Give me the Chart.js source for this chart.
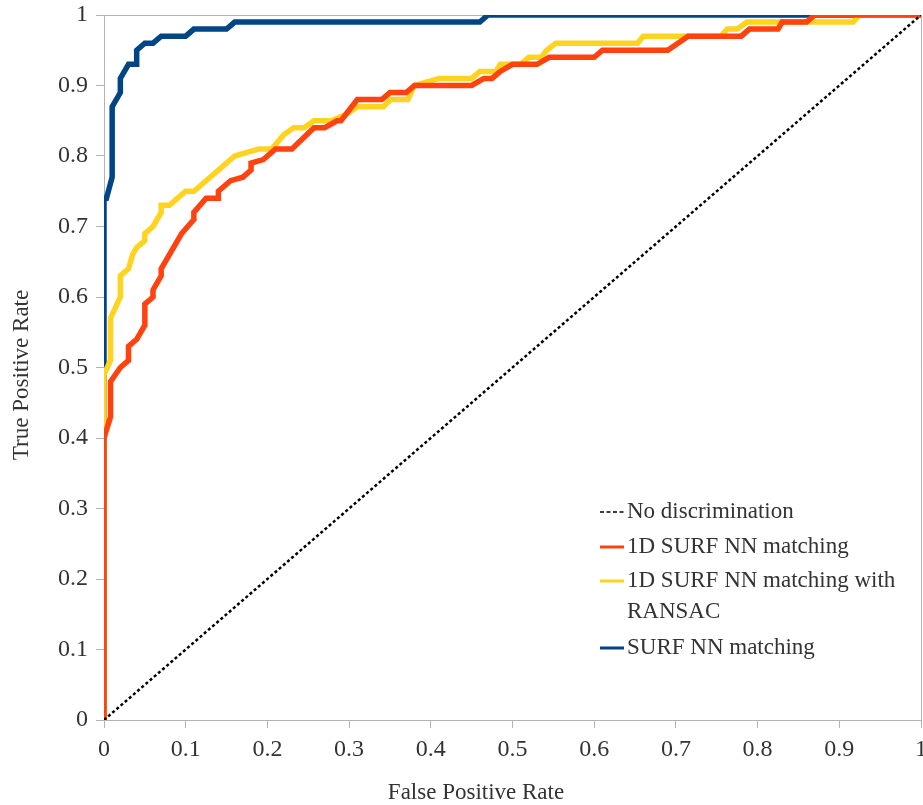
<!DOCTYPE html>
<html>
<head>
<meta charset="utf-8">
<script src="https://cdn.jsdelivr.net/npm/chart.js@4/dist/chart.umd.min.js"></script>
<style>
  html, body { margin: 0; padding: 0; background: #fff; overflow: hidden; }
  #wrap { width: 923px; height: 805px; }
</style>
</head>
<body>
<div id="wrap"><canvas id="c" width="923" height="805"></canvas></div>
<script>
// ---- Data ----
const seriesNames = ["No discrimination", "1D SURF NN matching", "1D SURF NN matching with RANSAC", "SURF NN matching"];
const axisTitles = ["False Positive Rate", "True Positive Rate"];
const tickValues = [0, 0.1, 0.2, 0.3, 0.4, 0.5, 0.6, 0.7, 0.8, 0.9, 1];

const diagFpr = [0, 1];
const diagTpr = [0, 1];

const surf1dFpr = [0, 0, 0.008, 0.008, 0.02, 0.03, 0.03, 0.04, 0.05, 0.05, 0.06, 0.06, 0.07, 0.07, 0.09, 0.095, 0.11, 0.11, 0.125, 0.14, 0.14, 0.155, 0.17, 0.18, 0.18, 0.195, 0.21, 0.23, 0.257, 0.27, 0.285, 0.29, 0.31, 0.34, 0.35, 0.37, 0.38, 0.45, 0.465, 0.475, 0.485, 0.50, 0.53, 0.545, 0.60, 0.61, 0.69, 0.715, 0.78, 0.79, 0.825, 0.83, 0.86, 0.87, 1];
const surf1dTpr = [0, 0.40, 0.43, 0.48, 0.50, 0.51, 0.53, 0.54, 0.56, 0.59, 0.60, 0.61, 0.63, 0.64, 0.68, 0.69, 0.71, 0.72, 0.74, 0.74, 0.75, 0.765, 0.77, 0.78, 0.79, 0.795, 0.81, 0.81, 0.84, 0.84, 0.85, 0.85, 0.88, 0.88, 0.89, 0.89, 0.90, 0.90, 0.91, 0.91, 0.92, 0.93, 0.93, 0.94, 0.94, 0.95, 0.95, 0.97, 0.97, 0.98, 0.98, 0.99, 0.99, 1.0, 1.0];

const ransacFpr = [0, 0, 0.008, 0.008, 0.02, 0.02, 0.03, 0.035, 0.04, 0.05, 0.05, 0.06, 0.07, 0.07, 0.08, 0.10, 0.11, 0.14, 0.16, 0.175, 0.19, 0.205, 0.22, 0.232, 0.245, 0.257, 0.278, 0.298, 0.31, 0.342, 0.351, 0.372, 0.38, 0.41, 0.45, 0.46, 0.48, 0.485, 0.51, 0.52, 0.535, 0.542, 0.553, 0.653, 0.66, 0.755, 0.763, 0.775, 0.787, 0.917, 0.925, 1];
const ransacTpr = [0, 0.49, 0.51, 0.57, 0.60, 0.63, 0.64, 0.66, 0.67, 0.68, 0.69, 0.70, 0.72, 0.73, 0.73, 0.75, 0.75, 0.78, 0.80, 0.805, 0.81, 0.81, 0.83, 0.84, 0.84, 0.85, 0.85, 0.86, 0.87, 0.87, 0.88, 0.88, 0.90, 0.91, 0.91, 0.92, 0.92, 0.93, 0.93, 0.94, 0.94, 0.95, 0.96, 0.96, 0.97, 0.97, 0.98, 0.98, 0.99, 0.99, 1.0, 1.0];

const surfFpr = [0, 0, 0.003, 0.01, 0.01, 0.02, 0.02, 0.03, 0.04, 0.04, 0.05, 0.06, 0.07, 0.10, 0.11, 0.15, 0.16, 0.46, 0.47, 1];
const surfTpr = [0, 0.74, 0.74, 0.77, 0.87, 0.89, 0.91, 0.93, 0.93, 0.95, 0.96, 0.96, 0.97, 0.97, 0.98, 0.98, 0.99, 0.99, 1.0, 1.0];

const seriesColors = ["#000000", "#ff420e", "#ffd320", "#004586"];

// ---- Build ----
function pts(xs, ys) { return xs.map((x, i) => ({ x: x, y: ys[i] })); }

const FONT = "'Liberation Serif', 'DejaVu Serif', 'Times New Roman', serif";
const TEXT = "#333333";
const AXIS = "#b3b3b3";

const framePlugin = {
  id: 'frame',
  beforeDatasetsDraw(chart) {
    const { ctx, chartArea: a } = chart;
    ctx.save();
    ctx.strokeStyle = AXIS;
    ctx.lineWidth = 1;
    ctx.beginPath();
    ctx.moveTo(a.left, a.top + 0.5);
    ctx.lineTo(a.right + 0.5, a.top + 0.5);
    ctx.lineTo(a.right + 0.5, a.bottom);
    ctx.stroke();
    ctx.restore();
  }
};

const titlePlugin = {
  id: 'axisTitles',
  afterDraw(chart) {
    const { ctx } = chart;
    ctx.save();
    ctx.font = "23px " + FONT;
    ctx.fillStyle = TEXT;
    ctx.textAlign = "center";
    ctx.textBaseline = "middle";
    ctx.fillText(axisTitles[0], 476, 793);
    ctx.translate(22, 375);
    ctx.rotate(-Math.PI / 2);
    ctx.fillText(axisTitles[1], 0, 0);
    ctx.restore();
  }
};

const legendPlugin = {
  id: 'customLegend',
  afterDraw(chart) {
    const { ctx } = chart;
    const rows = [
      { lines: ["No discrimination"], y: 512, color: seriesColors[0], dash: [4, 2.5] },
      { lines: ["1D SURF NN matching"], y: 547, color: seriesColors[1], dash: [] },
      { lines: ["1D SURF NN matching with", "RANSAC"], y: 581, color: seriesColors[2], dash: [] },
      { lines: ["SURF NN matching"], y: 648, color: seriesColors[3], dash: [] }
    ];
    ctx.save();
    ctx.font = "23px " + FONT;
    ctx.textBaseline = "middle";
    ctx.textAlign = "left";
    rows.forEach(r => {
      ctx.strokeStyle = r.color;
      ctx.lineWidth = r.dash.length ? 1.5 : 3;
      ctx.setLineDash(r.dash);
      ctx.beginPath();
      ctx.moveTo(600, r.y);
      ctx.lineTo(624, r.y);
      ctx.stroke();
      ctx.setLineDash([]);
      ctx.fillStyle = TEXT;
      r.lines.forEach((t, i) => ctx.fillText(t, 627, r.y + i * 31));
    });
    ctx.restore();
  }
};

const datasets = [
  { label: seriesNames[0], data: pts(diagFpr, diagTpr), borderColor: seriesColors[0], borderWidth: 2.5, borderDash: [3, 2.5] },
  { label: seriesNames[1], data: pts(surf1dFpr, surf1dTpr), borderColor: seriesColors[1], borderWidth: 5.5 },
  { label: seriesNames[2], data: pts(ransacFpr, ransacTpr), borderColor: seriesColors[2], borderWidth: 5.5 },
  { label: seriesNames[3], data: pts(surfFpr, surfTpr), borderColor: seriesColors[3], borderWidth: 5.5 }
].map(d => Object.assign(d, { showLine: true, pointRadius: 0, pointHoverRadius: 0, fill: false, tension: 0, borderJoinStyle: 'miter' }));

new Chart(document.getElementById('c'), {
  type: 'scatter',
  data: { datasets },
  options: {
    responsive: false,
    animation: false,
    devicePixelRatio: 1,
    layout: { padding: { top: 15, right: 2, left: 0, bottom: 0 } },
    plugins: { legend: { display: false }, tooltip: { enabled: false } },
    scales: {
      x: {
        type: 'linear', min: 0, max: 1,
        afterBuildTicks: s => { s.ticks = tickValues.map(v => ({ value: v })); },
        ticks: { color: TEXT, font: { family: FONT, size: 24 }, padding: 7, maxRotation: 0,
                 callback: v => String(Math.round(v * 10) / 10) },
        grid: { drawOnChartArea: false, drawTicks: true, tickLength: 8, color: AXIS },
        border: { color: AXIS, width: 1 },
        title: { display: false },
        afterFit: s => { s.height = 85; s.paddingLeft = 0; s.paddingRight = 0; }
      },
      y: {
        type: 'linear', min: 0, max: 1,
        afterBuildTicks: s => { s.ticks = tickValues.map(v => ({ value: v })); },
        ticks: { color: TEXT, font: { family: FONT, size: 24 }, padding: 8,
                 callback: v => String(Math.round(v * 10) / 10) },
        grid: { drawOnChartArea: false, drawTicks: true, tickLength: 8, color: AXIS },
        border: { color: AXIS, width: 1 },
        title: { display: false },
        afterFit: s => { s.width = 104; s.paddingTop = 0; s.paddingBottom = 0; }
      }
    }
  },
  plugins: [framePlugin, titlePlugin, legendPlugin]
});
</script>
</body>
</html>
